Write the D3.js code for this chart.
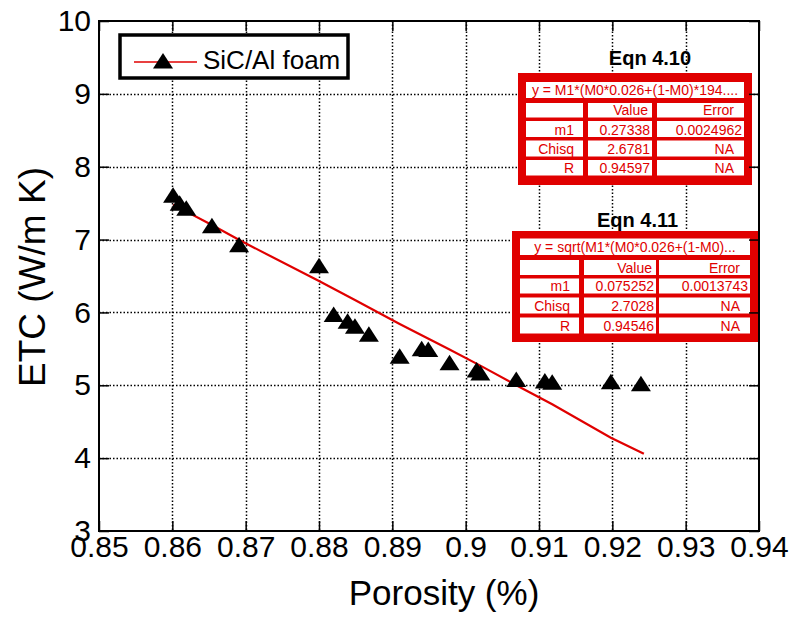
<!DOCTYPE html>
<html><head><meta charset="utf-8">
<script src="https://cdn.jsdelivr.net/npm/d3@7"></script>
<style>
html,body{margin:0;padding:0;background:#fff;}
text{font-family:"Liberation Sans",Arial,Helvetica,sans-serif;}
</style></head>
<body>
<svg id="chart" width="807" height="617"></svg>
<script>
// ---- data ----
const porosity = [0.8601, 0.8610, 0.8619, 0.8654, 0.8691, 0.8800, 0.8820, 0.8839, 0.8849, 0.8868,
                  0.8910, 0.8940, 0.8949, 0.8978, 0.9015, 0.9020, 0.9069, 0.9108, 0.9118, 0.9198, 0.9239];
const etc      = [7.61, 7.50, 7.43, 7.19, 6.93, 6.64, 5.97, 5.88, 5.81, 5.70,
                  5.40, 5.50, 5.49, 5.31, 5.21, 5.17, 5.08, 5.06, 5.04, 5.05, 5.02];
const fitPorosity = [0.8601, 0.8654, 0.8692, 0.8800, 0.8849, 0.8910, 0.8978, 0.9020, 0.9069, 0.9118, 0.9198, 0.9243];
const fitEtc      = [7.48, 7.20, 6.99, 6.43, 6.17, 5.84, 5.49, 5.27, 5.00, 4.74, 4.28, 4.06];
const xTicks = [0.85, 0.86, 0.87, 0.88, 0.89, 0.90, 0.91, 0.92, 0.93, 0.94];
const xTickLabels = ["0.85","0.86","0.87","0.88","0.89","0.9","0.91","0.92","0.93","0.94"];
const yTicks = [3, 4, 5, 6, 7, 8, 9, 10];
const yTickLabels = ["3","4","5","6","7","8","9","10"];
const seriesName = "SiC/Al foam";
const xTitle = "Porosity (%)";
const yTitle = "ETC (W/m K)";
const table1Title = "Eqn 4.10";
const table1Formula = "y = M1*(M0*0.026+(1-M0)*194....";
const table1Header = ["", "Value", "Error"];
const table1Rows = [["m1","0.27338","0.0024962"],["Chisq","2.6781","NA"],["R","0.94597","NA"]];
const table2Title = "Eqn 4.11";
const table2Formula = "y = sqrt(M1*(M0*0.026+(1-M0)...";
const table2Header = ["", "Value", "Error"];
const table2Rows = [["m1","0.075252","0.0013743"],["Chisq","2.7028","NA"],["R","0.94546","NA"]];

// ---- layout ----
const L = 99, R = 759, T = 21, B = 531;
const RED = "#e00000";
const svg = d3.select("#chart");
const x = d3.scaleLinear().domain([0.85, 0.94]).range([L, R]);
const y = d3.scaleLinear().domain([3, 10]).range([B, T]);

// grid
const grid = svg.append("g").attr("stroke", "#000").attr("stroke-width", 1.5).attr("stroke-dasharray", "1.5,2");
grid.selectAll("line.gx").data(xTicks.slice(1, -1)).join("line")
  .attr("x1", d => Math.round(x(d)) + 0.5).attr("x2", d => Math.round(x(d)) + 0.5).attr("y1", T).attr("y2", B);
grid.selectAll("line.gy").data(yTicks.slice(1, -1)).join("line")
  .attr("y1", d => Math.round(y(d)) + 0.5).attr("y2", d => Math.round(y(d)) + 0.5).attr("x1", L).attr("x2", R);

// fit line
const line = d3.line().x((d, i) => x(fitPorosity[i])).y((d, i) => y(fitEtc[i]));
svg.append("path").datum(fitPorosity).attr("d", line)
  .attr("fill", "none").attr("stroke", RED).attr("stroke-width", 2.2);

// triangles
const triPath = (cx, cy) => `M${cx},${cy - 8}L${cx + 10},${cy + 7.5}L${cx - 10},${cy + 7.5}Z`;
svg.append("g").selectAll("path").data(porosity).join("path")
  .attr("d", (d, i) => triPath(x(d), y(etc[i])))
  .attr("fill", "#000");

// legend
const lg = svg.append("g");
lg.append("rect").attr("x", 120).attr("y", 35).attr("width", 228).attr("height", 43)
  .attr("fill", "#fff").attr("stroke", "#000").attr("stroke-width", 3.5);
lg.append("line").attr("x1", 134).attr("x2", 197).attr("y1", 62).attr("y2", 62)
  .attr("stroke", RED).attr("stroke-width", 1.5);
lg.append("path").attr("d", triPath(163, 61)).attr("fill", "#000");
lg.append("text").attr("x", 203).attr("y", 68.5).attr("font-size", 26).text(seriesName);

// tables
function drawTable(title, titleX, titleY, formula, header, rows, box) {
  const g = svg.append("g");
  g.append("text").attr("x", titleX).attr("y", titleY).attr("text-anchor", "middle")
    .attr("font-size", 20).attr("font-weight", "bold").text(title);
  g.append("rect").attr("x", box.x0).attr("y", box.y0).attr("width", box.x1 - box.x0)
    .attr("height", box.y1 - box.y0).attr("fill", RED);
  g.append("rect").attr("x", box.cols[0][0]).attr("y", box.rows[0][0])
    .attr("width", box.cols[2][1] - box.cols[0][0]).attr("height", box.rows[0][1] - box.rows[0][0]).attr("fill", "#fff");
  g.append("text").attr("x", (box.cols[0][0] + box.cols[2][1]) / 2).attr("y", box.rows[0][1] - 3)
    .attr("text-anchor", "middle").attr("font-size", 14).attr("fill", RED).text(formula);
  const all = [header].concat(rows);
  all.forEach((r, ri) => {
    const ry = box.rows[ri + 1];
    r.forEach((c, ci) => {
      const cx = box.cols[ci];
      g.append("rect").attr("x", cx[0]).attr("y", ry[0]).attr("width", cx[1] - cx[0])
        .attr("height", ry[1] - ry[0]).attr("fill", "#fff");
      const isNum = /^[0-9.]+$/.test(c);
      const pad = ci === 0 ? 9 : (isNum ? 2 : (ci === 1 ? 4 : 10));
      g.append("text").attr("x", cx[1] - pad).attr("y", ry[1] - 2.5)
        .attr("text-anchor", "end").attr("font-size", 14).attr("fill", RED).text(c);
    });
  });
}
drawTable(table1Title, 650, 65, table1Formula, table1Header, table1Rows, {
  x0: 518, x1: 752, y0: 73, y1: 185,
  cols: [[526, 583], [588, 652], [657, 744]],
  rows: [[82, 98], [103, 117.5], [121, 137], [140.5, 156.5], [160, 175.5]]
});
drawTable(table2Title, 637.5, 226.5, table2Formula, table2Header, table2Rows, {
  x0: 512, x1: 758, y0: 231, y1: 342,
  cols: [[520, 579], [584, 656], [659, 750]],
  rows: [[238.5, 255], [260, 275], [278.5, 293.5], [297.5, 313.5], [317.5, 333.5]]
});

// axes
const fs = 30;
const ax = svg.append("g").attr("transform", `translate(0,${B})`)
  .call(d3.axisBottom(x).tickValues(xTicks).tickFormat((d, i) => xTickLabels[i]).tickSizeInner(-10).tickSizeOuter(0).tickPadding(5));
const ay = svg.append("g").attr("transform", `translate(${L},0)`)
  .call(d3.axisLeft(y).tickValues(yTicks).tickFormat((d, i) => yTickLabels[i]).tickSizeInner(-10).tickSizeOuter(0).tickPadding(8));
const at = svg.append("g").attr("transform", `translate(0,${T})`)
  .call(d3.axisTop(x).tickValues(xTicks).tickFormat("").tickSizeInner(-10).tickSizeOuter(0));
const ar = svg.append("g").attr("transform", `translate(${R},0)`)
  .call(d3.axisRight(y).tickValues(yTicks).tickFormat("").tickSizeInner(-10).tickSizeOuter(0));
[ax, ay, at, ar].forEach(a => {
  a.select(".domain").remove();
  a.selectAll("line").attr("stroke", "#000").attr("stroke-width", 1.5);
  a.selectAll("text").attr("font-size", fs).attr("fill", "#000")
    .attr("font-family", '"Liberation Sans",Arial,Helvetica,sans-serif');
});
svg.append("rect").attr("x", L).attr("y", T).attr("width", R - L).attr("height", B - T)
  .attr("fill", "none").attr("stroke", "#000").attr("stroke-width", 2);

// titles
svg.append("text").attr("x", 444).attr("y", 605).attr("text-anchor", "middle").attr("font-size", 35).text(xTitle);
svg.append("text").attr("transform", "translate(45,277) rotate(-90)").attr("text-anchor", "middle")
  .attr("font-size", 37).text(yTitle);
</script>
</body></html>
